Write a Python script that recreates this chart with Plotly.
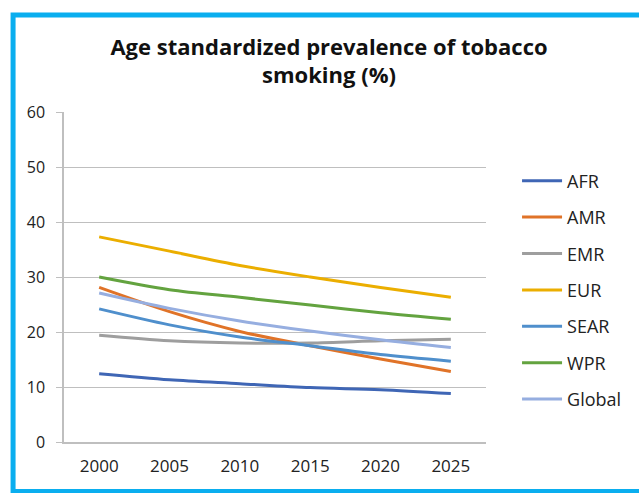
import plotly.graph_objects as go

years = ["2000", "2005", "2010", "2015", "2020", "2025"]
afr = [12.4, 11.3, 10.6, 9.9, 9.5, 8.8]
amr = [28.1, 23.7, 20.1, 17.5, 15.1, 12.8]
emr = [19.4, 18.4, 18.0, 18.0, 18.4, 18.7]
eur = [37.3, 34.7, 32.1, 30.0, 28.1, 26.3]
sear = [24.2, 21.3, 19.1, 17.5, 15.9, 14.7]
wpr = [30.0, 27.7, 26.3, 24.9, 23.5, 22.3]
glob = [27.1, 24.3, 22.0, 20.2, 18.6, 17.2]

series_names = ["AFR", "AMR", "EMR", "EUR", "SEAR", "WPR", "Global"]
series_values = [afr, amr, emr, eur, sear, wpr, glob]
series_colors = ["#3F66B5", "#E07328", "#9E9E9E", "#EBAE00", "#4F8FCC", "#63A33F", "#96AEE0"]

fig = go.Figure()
for i, (name, vals, col) in enumerate(zip(series_names, series_values, series_colors)):
    fig.add_trace(go.Scatter(
        x=years, y=vals, name=name, mode="lines",
        line=dict(color=col, width=3, shape="spline", smoothing=0.9),
        legendgroup=f"g{i}",
    ))

W, H = 639, 493
ml, mr, mt, mb = 64, 140, 112, 51
pw, ph = W - ml - mr, H - mt - mb

def px_x(p):
    return (p - ml) / pw

def px_y(p):
    return (H - mb - p) / ph

fig.update_layout(
    width=W, height=H,
    margin=dict(l=ml, r=mr, t=mt, b=mb, pad=0),
    paper_bgcolor="white", plot_bgcolor="white",
    font=dict(family="Open Sans, sans-serif", color="#222222", size=16),
    title=dict(
        text="<b>Age standardized prevalence of tobacco<br>smoking (%)</b>",
        x=329 / W, xanchor="center", y=1 - 54.5 / H, yanchor="middle",
        font=dict(family="Open Sans, sans-serif", size=22, color="#111111"),
    ),
    showlegend=True,
    legend=dict(
        x=px_x(531), xanchor="left", y=px_y(162.5), yanchor="top",
        font=dict(size=18, family="Open Sans, sans-serif", color="#222222"),
        tracegroupgap=10, itemwidth=40, entrywidth=60, bgcolor="rgba(0,0,0,0)",
    ),
    xaxis=dict(
        type="category", range=[-0.5, 5.5], showline=True, linecolor="#BFBFBF",
        linewidth=1.5, showgrid=False, ticks="", tickfont=dict(size=17),
        ticklabelstandoff=8, zeroline=False,
    ),
    yaxis=dict(
        range=[0, 60], dtick=10, showline=True, linecolor="#BFBFBF", linewidth=1.5,
        gridcolor="#BFBFBF", gridwidth=1.2, ticks="outside", ticklen=6,
        tickcolor="#BFBFBF", tickwidth=1.2, tickfont=dict(size=16),
        ticklabelstandoff=8, zeroline=False,
    ),
    shapes=[dict(
        type="rect", xref="paper", yref="paper",
        x0=px_x(11.5), x1=px_x(700), y0=px_y(491.5), y1=px_y(15),
        line=dict(color="#0AAEEF", width=5), fillcolor="rgba(0,0,0,0)", layer="below",
    )],
)

fig.write_html("out.html")
